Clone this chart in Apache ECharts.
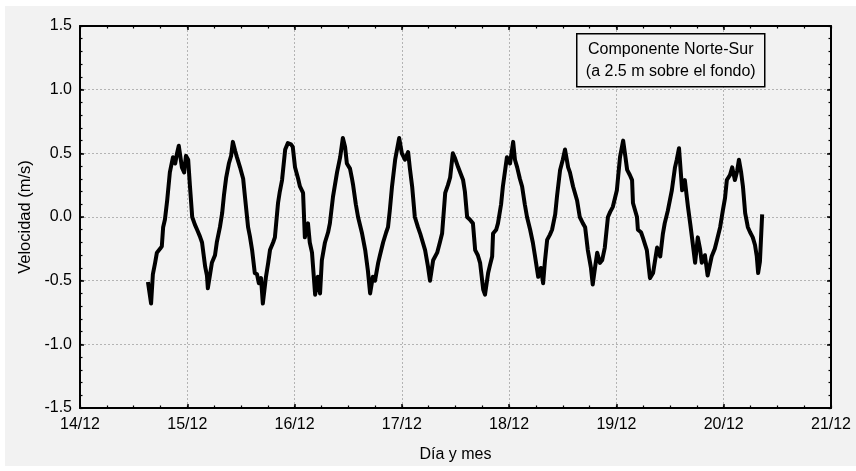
<!DOCTYPE html>
<html>
<head>
<meta charset="utf-8">
<script src="https://cdn.jsdelivr.net/npm/echarts@6/dist/echarts.min.js"></script>
<style>
html,body{margin:0;padding:0;background:#ffffff;}
#bg{position:absolute;left:5px;top:6px;width:851px;height:460px;background:#f2f2f2;}
#chart{position:absolute;left:0;top:0;width:856px;height:471px;}
</style>
</head>
<body>
<div id="bg"></div>
<div id="chart"></div>
<script>
// Time in hours since 14/12 00:00
const hours = [15.2,15.9,16.3,16.8,17.2,17.9,18.3,18.6,19.0,19.5,20.1,20.8,21.3,21.7,22.1,22.8,23.3,23.7,24.2,24.6,25.1,25.7,26.2,26.8,27.3,28.0,28.4,28.6,29.1,29.5,30.2,30.6,31.3,31.8,32.2,32.7,33.3,33.8,34.2,34.7,35.1,35.8,36.5,36.9,37.6,38.0,38.5,39.1,39.6,40.0,40.5,40.9,41.6,42.1,42.5,43.2,43.6,44.3,44.7,45.2,45.9,46.5,47.2,47.6,48.1,48.8,49.2,49.9,50.3,51.0,51.4,51.9,52.6,53.2,53.7,54.1,54.8,55.5,55.9,56.6,57.5,58.2,58.8,59.3,59.7,60.4,60.8,61.1,61.7,62.2,63.1,63.8,64.4,64.9,65.5,66.0,66.7,67.1,67.8,68.5,68.9,69.3,69.8,70.5,71.4,72.0,72.7,73.4,73.8,74.3,74.9,75.6,76.1,77.2,77.8,78.3,79.0,79.9,80.5,81.0,81.7,82.3,82.8,83.4,83.9,84.6,85.7,86.1,86.6,87.2,87.9,88.4,89.0,89.5,90.2,90.6,91.3,91.7,92.2,92.4,93.1,93.5,94.2,94.6,95.5,96.2,96.9,97.3,97.8,98.4,98.9,99.5,100.0,100.7,101.3,101.8,102.5,103.1,103.6,104.0,104.5,105.1,105.6,106.3,106.7,107.4,108.0,108.5,109.2,109.6,110.3,111.2,111.8,112.5,113.0,113.6,114.3,114.7,115.2,115.7,116.3,116.8,117.4,118.1,118.6,119.2,120.1,120.8,121.5,121.9,122.4,123.0,123.5,123.7,124.6,124.8,125.5,125.9,126.8,127.5,128.2,128.6,129.1,129.8,130.4,130.8,131.5,132.4,133.1,133.5,134.0,134.4,134.7,135.3,136.0,136.5,136.9,137.6,138.2,138.7,139.1,139.8,140.4,141.3,142.0,142.5,143.2,143.8,144.3,144.7,145.4,145.9,146.5,147.0,147.4,147.9,148.3,148.8,149.4,149.9,150.5,151.0,151.4,151.7,152.1,152.6];
const velocity = [-0.51,-0.68,-0.45,-0.36,-0.28,-0.25,-0.23,-0.08,-0.02,0.13,0.35,0.47,0.42,0.50,0.56,0.39,0.35,0.48,0.45,0.24,0.00,-0.06,-0.10,-0.15,-0.20,-0.39,-0.46,-0.56,-0.45,-0.36,-0.30,-0.20,-0.08,0.03,0.17,0.31,0.42,0.48,0.59,0.52,0.47,0.39,0.30,0.16,-0.08,-0.15,-0.26,-0.44,-0.45,-0.52,-0.48,-0.68,-0.47,-0.36,-0.26,-0.20,-0.16,0.11,0.20,0.29,0.53,0.58,0.57,0.55,0.39,0.30,0.24,0.19,-0.16,-0.05,-0.20,-0.28,-0.61,-0.47,-0.60,-0.34,-0.20,-0.12,-0.05,0.16,0.35,0.47,0.62,0.55,0.42,0.38,0.31,0.25,0.10,0.00,-0.13,-0.26,-0.42,-0.60,-0.47,-0.50,-0.36,-0.30,-0.20,-0.12,-0.08,0.05,0.24,0.45,0.62,0.50,0.45,0.51,0.38,0.24,0.00,-0.08,-0.13,-0.26,-0.38,-0.50,-0.34,-0.28,-0.20,-0.13,0.19,0.25,0.31,0.50,0.46,0.39,0.29,0.20,0.00,-0.02,-0.05,-0.26,-0.30,-0.36,-0.57,-0.61,-0.44,-0.38,-0.31,-0.13,-0.10,-0.05,0.10,0.24,0.47,0.42,0.59,0.45,0.39,0.30,0.24,0.10,0.00,-0.10,-0.20,-0.31,-0.47,-0.40,-0.52,-0.35,-0.18,-0.14,-0.10,0.02,0.16,0.37,0.45,0.53,0.39,0.35,0.24,0.13,0.00,-0.05,-0.08,-0.26,-0.40,-0.53,-0.40,-0.28,-0.36,-0.34,-0.24,0.00,0.04,0.08,0.21,0.47,0.60,0.50,0.37,0.33,0.29,0.11,0.00,-0.10,-0.12,-0.16,-0.26,-0.48,-0.44,-0.35,-0.24,-0.31,-0.13,-0.05,0.05,0.21,0.39,0.45,0.54,0.35,0.21,0.29,0.08,-0.05,-0.16,-0.36,-0.16,-0.25,-0.36,-0.30,-0.46,-0.31,-0.25,-0.18,-0.08,0.05,0.15,0.29,0.33,0.39,0.29,0.36,0.45,0.35,0.24,0.03,-0.08,-0.12,-0.16,-0.22,-0.31,-0.44,-0.35,0.02];
const xTickDays = ['14/12','15/12','16/12','17/12','18/12','19/12','20/12','21/12'];
const yTicks = [-1.5,-1.0,-0.5,0.0,0.5,1.0,1.5];
const boxLines = ['Componente Norte-Sur','(a 2.5 m sobre el fondo)'];
const xTitle = 'Día y mes';
const yTitle = 'Velocidad (m/s)';

const chart = echarts.init(document.getElementById('chart'), null, {renderer:'canvas'});
const font = 'Liberation Sans, Arial, sans-serif';
const pts = hours.map((h,i)=>[h, velocity[i]]);
const axisLine = {show:true, onZero:false, lineStyle:{color:'#000', width:2}};
const grid = {lineStyle:{color:'#b4b4b4', type:[2,2], width:1}};
function majorX(pos, labels){
  return {
    type:'value', min:0, max:168, interval:24, position:pos,
    axisLine:axisLine,
    axisTick:{show:true, inside:true, length:4, lineStyle:{color:'#000', width:1.5}},
    splitLine:labels ? Object.assign({show:true}, grid) : {show:false},
    axisLabel:labels ? {color:'#000', fontSize:16, fontFamily:font, margin:9,
      formatter:v=>xTickDays[Math.round(v/24)]} : {show:false},
    name:labels ? xTitle : '', nameLocation:'middle', nameGap:39,
    nameTextStyle:{color:'#000', fontSize:16, fontFamily:font}
  };
}
function minorX(pos){
  return {type:'value', min:0, max:168, interval:6, position:pos,
    axisLine:{show:false, onZero:false}, splitLine:{show:false}, axisLabel:{show:false},
    axisTick:{show:true, inside:true, length:2.5, lineStyle:{color:'#000', width:1.2}}};
}
function majorY(pos, labels){
  return {
    type:'value', min:-1.5, max:1.5, interval:0.5, position:pos,
    axisLine:axisLine,
    axisTick:{show:true, inside:true, length:4, lineStyle:{color:'#000', width:1.5}},
    splitLine:labels ? Object.assign({show:true}, grid) : {show:false},
    axisLabel:labels ? {color:'#000', fontSize:16, fontFamily:font, margin:8,
      formatter:v=>v.toFixed(1)} : {show:false},
    name:labels ? yTitle : '', nameLocation:'middle', nameGap:46, nameRotate:90,
    nameTextStyle:{color:'#000', fontSize:16.5, fontFamily:font}
  };
}
function minorY(pos){
  return {type:'value', min:-1.5, max:1.5, interval:0.1, position:pos,
    axisLine:{show:false, onZero:false}, splitLine:{show:false}, axisLabel:{show:false},
    axisTick:{show:true, inside:true, length:2.5, lineStyle:{color:'#000', width:1.2}}};
}
const option = {
  backgroundColor:'transparent',
  animation:false,
  grid:{left:80, right:25, top:26, bottom:63, containLabel:false},
  xAxis:[majorX('bottom', true), majorX('top', false), minorX('bottom'), minorX('top')],
  yAxis:[majorY('left', true), majorY('right', false), minorY('left'), minorY('right')],
  series:[{
    type:'line', data:pts, xAxisIndex:0, yAxisIndex:0,
    showSymbol:false, symbol:'none',
    lineStyle:{color:'#000', width:4, join:'round'},
    z:5
  }],
  graphic:[{
    type:'group', left:576, top:33,
    children:[
      {type:'rect', shape:{x:0,y:0,width:188,height:53},
       style:{fill:'#f2f2f2', stroke:'#000', lineWidth:1.5}, z:10},
      {type:'text', x:94, y:16, z:11,
       style:{text:boxLines[0], fill:'#000', font:'16px '+font, textAlign:'center', textVerticalAlign:'middle'}},
      {type:'text', x:94, y:38, z:11,
       style:{text:boxLines[1], fill:'#000', font:'16px '+font, textAlign:'center', textVerticalAlign:'middle'}}
    ]
  }]
};
chart.setOption(option);
</script>
</body>
</html>
